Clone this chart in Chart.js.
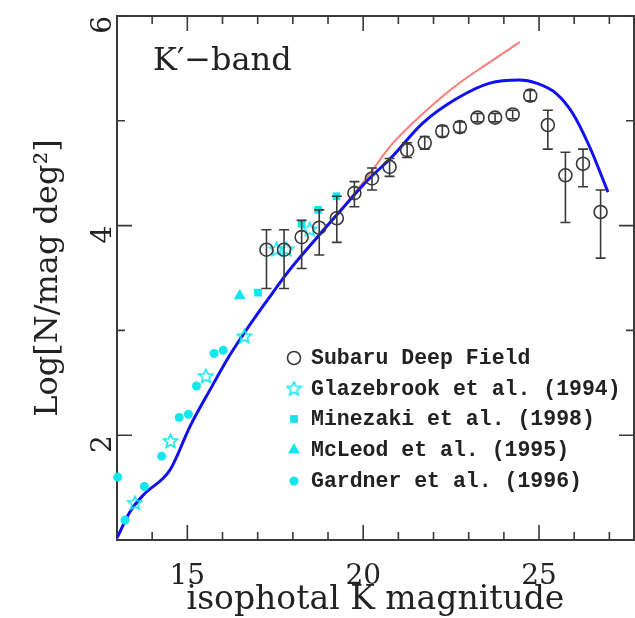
<!DOCTYPE html>
<html>
<head>
<meta charset="utf-8">
<script src="https://cdn.jsdelivr.net/npm/chart.js@4.4.0/dist/chart.umd.min.js"></script>
<style>
  html, body { margin: 0; padding: 0; background: #fff; overflow: hidden; }
  canvas { display: block; }
</style>
</head>
<body>
<canvas id="counts" width="635" height="618"></canvas>
<script>
/*  K'-band galaxy number counts  */

// Subaru Deep Field (open circles with error bars)
const sdfMag   = [17.25, 17.75, 18.25, 18.75, 19.25, 19.75, 20.25, 20.75, 21.25, 21.75,
                  22.25, 22.75, 23.25, 23.75, 24.25, 24.75, 25.25, 25.75, 26.25, 26.75];
const sdfLogN  = [3.77, 3.77, 3.89, 3.98, 4.07, 4.31, 4.45, 4.56, 4.72, 4.79,
                  4.90, 4.94, 5.03, 5.03, 5.06, 5.24, 4.96, 4.48, 4.59, 4.13];
const sdfErrUp = [0.19, 0.19, 0.16, 0.17, 0.21, 0.11, 0.10, 0.08, 0.07, 0.06,
                  0.05, 0.05, 0.04, 0.04, 0.04, 0.05, 0.14, 0.22, 0.14, 0.21];
const sdfErrLo = [0.37, 0.37, 0.30, 0.26, 0.23, 0.13, 0.11, 0.09, 0.07, 0.06,
                  0.05, 0.05, 0.04, 0.04, 0.04, 0.05, 0.23, 0.45, 0.22, 0.44];

// other surveys
const glazeMag  = [13.51, 14.52, 15.53, 16.62, 17.54, 17.82, 18.48];
const glazeLogN = [1.35, 1.94, 2.56, 2.94, 3.77, 3.77, 3.96];
const mineMag   = [17.01, 18.25, 18.72, 19.24];
const mineLogN  = [3.36, 4.02, 4.15, 4.28];
const mcleodMag  = [16.49];
const mcleodLogN = [3.33];
const gardMag   = [13.02, 13.23, 13.78, 14.27, 14.77, 15.03, 15.26, 15.76, 16.02];
const gardLogN  = [1.60, 1.19, 1.51, 1.80, 2.17, 2.20, 2.47, 2.78, 2.81];

// model curves
const blueMag  = [13.0, 13.37, 13.75, 14.51, 15.07, 15.64, 16.2, 16.73, 17.3, 17.82, 18.67,
                  19.43, 20.09, 20.8, 21.7, 22.65, 23.6, 24.45, 24.92, 25.49, 25.96, 26.44, 26.96];
const blueLogN = [1.02, 1.27, 1.43, 1.67, 2.08, 2.43, 2.76, 3.03, 3.30, 3.54, 3.88,
                  4.17, 4.42, 4.65, 4.98, 5.21, 5.36, 5.39, 5.36, 5.26, 5.07, 4.75, 4.32];
const redMag   = [13.0, 13.37, 13.75, 14.51, 15.07, 15.64, 16.2, 16.73, 17.3, 17.82, 18.67,
                  19.43, 20.09, 20.8, 21.7, 22.65, 23.6, 24.45];
const redLogN  = [1.02, 1.27, 1.43, 1.67, 2.08, 2.43, 2.76, 3.03, 3.30, 3.54, 3.88,
                  4.18, 4.45, 4.77, 5.07, 5.34, 5.56, 5.75];

// axes
const xTickVals = [15, 20, 25];
const yTickVals = [2, 4, 6];
const legendNames = ['Subaru Deep Field', 'Glazebrook et al. (1994)', 'Minezaki et al. (1998)',
                     'McLeod et al. (1995)', 'Gardner et al. (1996)'];

const CYAN = '#14e6ee';
const INK = '#3a3a3a';

function pts(xs, ys) { return xs.map((x, i) => ({ x: x, y: ys[i] })); }

function starImage(size, color) {
  const c = document.createElement('canvas');
  c.width = c.height = size;
  const g = c.getContext('2d');
  g.strokeStyle = color;
  g.lineWidth = 1.6;
  g.beginPath();
  const cx = size / 2, cy = size / 2, R = size / 2 - 1.2, r = R * 0.45;
  for (let i = 0; i < 10; i++) {
    const a = -Math.PI / 2 + i * Math.PI / 5;
    const rr = i % 2 ? r : R;
    const px = cx + rr * Math.cos(a), py = cy + rr * Math.sin(a);
    if (i) g.lineTo(px, py); else g.moveTo(px, py);
  }
  g.closePath();
  g.stroke();
  return c;
}
const starPt = starImage(17, CYAN);

// frame with inward ticks on all four sides
const frameTicks = {
  id: 'frameTicks',
  beforeDatasetsDraw(chart) {
    const { ctx, chartArea: a, scales: { x, y } } = chart;
    ctx.save();
    ctx.strokeStyle = INK;
    ctx.lineWidth = 2;
    ctx.strokeRect(a.left, a.top, a.right - a.left, a.bottom - a.top);
    ctx.lineWidth = 1.6;
    ctx.beginPath();
    for (let v = 13; v <= x.max; v++) {
      const px = x.getPixelForValue(v);
      const len = v % 5 === 0 ? 15 : 8;
      ctx.moveTo(px, a.bottom); ctx.lineTo(px, a.bottom - len);
      ctx.moveTo(px, a.top); ctx.lineTo(px, a.top + len);
    }
    for (let v = 1; v <= y.max; v++) {
      const py = y.getPixelForValue(v);
      const len = v % 2 === 0 ? 15 : 8;
      ctx.moveTo(a.left, py); ctx.lineTo(a.left + len, py);
      ctx.moveTo(a.right, py); ctx.lineTo(a.right - len, py);
    }
    ctx.stroke();
    ctx.restore();
  }
};

// error bars for the SDF points
const errorBars = {
  id: 'errorBars',
  afterDatasetsDraw(chart) {
    const { ctx, scales: { x, y } } = chart;
    ctx.save();
    ctx.strokeStyle = INK;
    ctx.lineWidth = 1.6;
    ctx.beginPath();
    sdfMag.forEach((m, i) => {
      const px = x.getPixelForValue(m);
      const top = y.getPixelForValue(sdfLogN[i] + sdfErrUp[i]);
      const bot = y.getPixelForValue(sdfLogN[i] - sdfErrLo[i]);
      ctx.moveTo(px, top); ctx.lineTo(px, bot);
      ctx.moveTo(px - 5, top); ctx.lineTo(px + 5, top);
      ctx.moveTo(px - 5, bot); ctx.lineTo(px + 5, bot);
    });
    ctx.stroke();
    ctx.restore();
  }
};

// band label + legend inside the box
const labels = {
  id: 'labels',
  afterDraw(chart) {
    const ctx = chart.ctx;
    ctx.save();
    ctx.fillStyle = '#222';
    ctx.textBaseline = 'middle';
    ctx.font = '32px "DejaVu Serif"';
    ctx.fillText('K\u2032\u2212band', 153, 62);

    ctx.font = 'bold 21.5px "Liberation Mono"';
    const rowY = [358, 389, 419, 450, 481];
    const sx = 294, tx = 311;
    const sets = chart.data.datasets;
    for (let i = 0; i < 5; i++) {
      const ds = sets[i];
      ctx.save();
      ctx.fillStyle = ds.pointBackgroundColor;
      ctx.strokeStyle = ds.pointBorderColor;
      ctx.lineWidth = ds.pointBorderWidth;
      Chart.helpers.drawPoint(ctx, {
        pointStyle: ds.pointStyle, radius: ds.pointRadius, rotation: 0,
        borderWidth: ds.pointBorderWidth
      }, sx, rowY[i]);
      ctx.restore();
      ctx.fillText(legendNames[i], tx, rowY[i] + 1);
    }
    ctx.restore();
  }
};

new Chart(document.getElementById('counts'), {
  type: 'scatter',
  data: {
    datasets: [
      { label: legendNames[0], data: pts(sdfMag, sdfLogN), pointStyle: 'circle', pointRadius: 6.5,
        pointBackgroundColor: 'rgba(0,0,0,0)', pointBorderColor: INK, pointBorderWidth: 1.6, order: 1 },
      { label: legendNames[1], data: pts(glazeMag, glazeLogN), pointStyle: starPt, pointRadius: 8,
        pointBackgroundColor: 'rgba(0,0,0,0)', pointBorderColor: CYAN, pointBorderWidth: 1.6, order: 2 },
      { label: legendNames[2], data: pts(mineMag, mineLogN), pointStyle: 'rect', pointRadius: 5.5,
        pointBackgroundColor: CYAN, pointBorderColor: CYAN, pointBorderWidth: 0, order: 2 },
      { label: legendNames[3], data: pts(mcleodMag, mcleodLogN), pointStyle: 'triangle', pointRadius: 7,
        pointBackgroundColor: CYAN, pointBorderColor: CYAN, pointBorderWidth: 0, order: 2 },
      { label: legendNames[4], data: pts(gardMag, gardLogN), pointStyle: 'circle', pointRadius: 4.5,
        pointBackgroundColor: CYAN, pointBorderColor: CYAN, pointBorderWidth: 0, order: 2, clip: false },
      { label: 'model 2', data: pts(redMag, redLogN), showLine: true, pointRadius: 0,
        borderColor: '#ff7b7b', borderWidth: 2, cubicInterpolationMode: 'monotone', order: 4 },
      { label: 'model 1', data: pts(blueMag, blueLogN), showLine: true, pointRadius: 0,
        borderColor: '#1010f0', borderWidth: 3, cubicInterpolationMode: 'monotone', order: 3 }
    ]
  },
  options: {
    responsive: false,
    animation: false,
    layout: { autoPadding: false, padding: { left: 0, right: 1, top: 16, bottom: 0 } },
    plugins: { legend: { display: false }, tooltip: { enabled: false } },
    scales: {
      x: {
        type: 'linear', min: 13, max: 27.7,
        grid: { display: false, drawTicks: false },
        border: { display: false },
        afterBuildTicks: s => { s.ticks = xTickVals.map(v => ({ value: v })); },
        afterFit: s => { s.height = 78; s.paddingLeft = 0; s.paddingRight = 0; },
        ticks: { padding: 20, color: '#222', font: { family: 'DejaVu Serif', size: 28 } },
        title: { display: true, text: 'isophotal K magnitude', color: '#222',
                 font: { family: 'DejaVu Serif', size: 33 }, padding: { top: 0, bottom: -2 } }
      },
      y: {
        type: 'linear', min: 1, max: 6,
        grid: { display: false, drawTicks: false },
        border: { display: false },
        afterBuildTicks: s => { s.ticks = yTickVals.map(v => ({ value: v })); },
        afterFit: s => { s.width = 117; s.paddingTop = 0; s.paddingBottom = 0; },
        ticks: { padding: 13, minRotation: 90, maxRotation: 90, color: '#222',
                 font: { family: 'DejaVu Serif', size: 28 } },
        title: { display: true, text: 'Log[N/mag deg\u00b2]', color: '#222',
                 font: { family: 'DejaVu Serif', size: 32 }, padding: { top: 29, bottom: 0 } }
      }
    }
  },
  plugins: [frameTicks, errorBars, labels]
});
</script>
</body>
</html>
